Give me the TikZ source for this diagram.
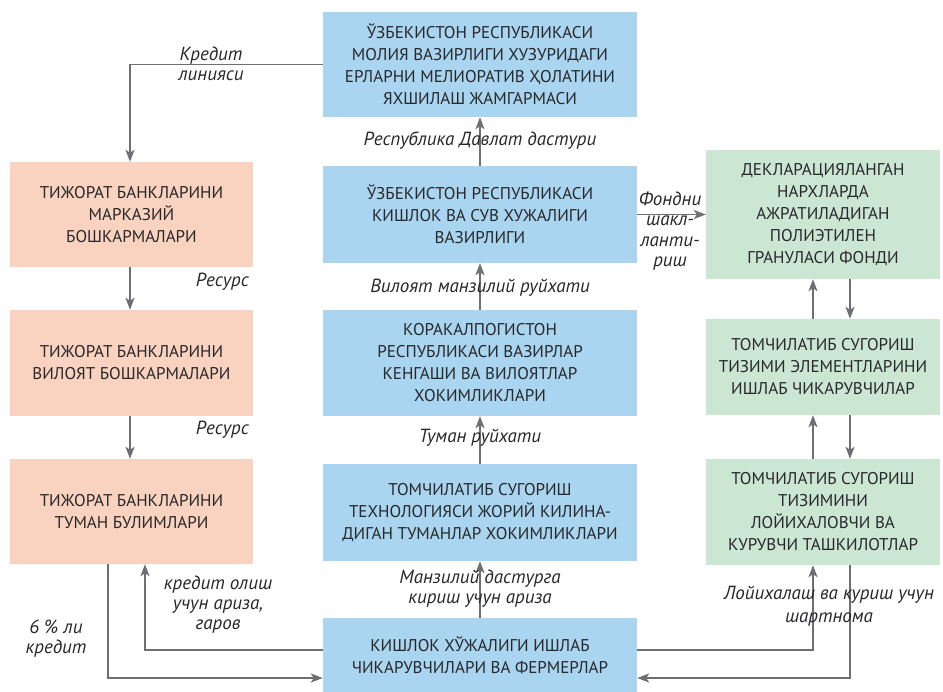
\documentclass[tikz,border=0pt]{standalone}
\usepackage{fontspec}
\setmainfont{PT Sans}
\usetikzlibrary{arrows.meta}
\definecolor{bluebox}{RGB}{169,213,240}
\definecolor{salmonbox}{RGB}{250,211,192}
\definecolor{greenbox}{RGB}{204,230,212}
\definecolor{linegrey}{RGB}{110,111,115}
\definecolor{txt}{RGB}{40,40,42}
\begin{document}
\begin{tikzpicture}[x=1pt,y=-1pt,
  box/.style={rectangle, inner sep=0pt, align=center, text=txt,
    font=\fontsize{17}{22}\selectfont},
  bluebox/.style={box, fill=bluebox, minimum width=314pt},
  bankbox/.style={box, fill=salmonbox, minimum width=243pt},
  supplybox/.style={box, fill=greenbox, minimum width=234pt},
  lbl/.style={inner sep=0pt, align=center, text=txt,
    font=\itshape\fontsize{19}{20}\selectfont},
  arr/.style={draw=linegrey, line width=1.5pt,
    -{Stealth[length=12pt,width=9pt,inset=3pt]}}]
\useasboundingbox (0,0) rectangle (943,692);

% central column
\node[bluebox, minimum height=105pt] (T) at (480,64.5)
  {ЎЗБЕКИСТОН РЕСПУБЛИКАСИ\\МОЛИЯ ВАЗИРЛИГИ ХУЗУРИДАГИ\\ЕРЛАРНИ МЕЛИОРАТИВ ҲОЛАТИНИ\\ЯХШИЛАШ ЖАМГАРМАСИ};
\node[bluebox, minimum height=97pt] (M2) at (480,214.5)
  {ЎЗБЕКИСТОН РЕСПУБЛИКАСИ\\КИШЛОК ВА СУВ ХУЖАЛИГИ\\ВАЗИРЛИГИ};
\node[bluebox, minimum height=106pt] (M3) at (480,363)
  {КОРАКАЛПОГИСТОН\\РЕСПУБЛИКАСИ ВАЗИРЛАР\\КЕНГАШИ ВА ВИЛОЯТЛАР\\ХОКИМЛИКЛАРИ};
\node[bluebox, minimum height=97pt] (M4) at (480,512.5)
  {ТОМЧИЛАТИБ СУГОРИШ\\ТЕХНОЛОГИЯСИ ЖОРИЙ КИЛИНА-\\ДИГАН ТУМАНЛАР ХОКИМЛИКЛАРИ};
\node[bluebox, minimum height=74pt] (B) at (480,655)
  {КИШЛОК ХЎЖАЛИГИ ИШЛАБ\\ЧИКАРУВЧИЛАРИ ВА ФЕРМЕРЛАР};

% bank column
\node[bankbox, minimum height=105pt] (L1) at (131.5,214.5)
  {ТИЖОРАТ БАНКЛАРИНИ\\МАРКАЗИЙ\\БОШКАРМАЛАРИ};
\node[bankbox, minimum height=106pt] (L2) at (131.5,363)
  {ТИЖОРАТ БАНКЛАРИНИ\\ВИЛОЯТ БОШКАРМАЛАРИ};
\node[bankbox, minimum height=105pt] (L3) at (131.5,511.5)
  {ТИЖОРАТ БАНКЛАРИНИ\\ТУМАН БУЛИМЛАРИ};

% supplier column
\node[supplybox, minimum height=129pt] (R1) at (823,214.5)
  {ДЕКЛАРАЦИЯЛАНГАН\\НАРХЛАРДА\\АЖРАТИЛАДИГАН\\ПОЛИЭТИЛЕН\\ГРАНУЛАСИ ФОНДИ};
\node[supplybox, minimum height=96pt] (R2) at (823,367)
  {ТОМЧИЛАТИБ СУГОРИШ\\ТИЗИМИ ЭЛЕМЕНТЛАРИНИ\\ИШЛАБ ЧИКАРУВЧИЛАР};
\node[supplybox, minimum height=106pt] (R3) at (823,512)
  {ТОМЧИЛАТИБ СУГОРИШ\\ТИЗИМИНИ\\ЛОЙИХАЛОВЧИ ВА\\КУРУВЧИ ТАШКИЛОТЛАР};

% helper coordinates for the bottom routing
\coordinate (yOut) at (0,650);
\coordinate (yIn) at (0,678);
\coordinate (xL1) at (108,0);
\coordinate (xL2) at (145,0);
\coordinate (xR1) at (813,0);
\coordinate (xR2) at (850,0);
\coordinate (xBank) at (130,0);

% connectors
\draw[arr] (T.west) -| (L1.north -| xBank);
\draw[arr] (L1.south -| xBank) -- (L2.north -| xBank);
\draw[arr] (L2.south -| xBank) -- (L3.north -| xBank);

\draw[arr] (M2.north) -- (T.south);
\draw[arr] (M3.north) -- (M2.south);
\draw[arr] (M4.north) -- (M3.south);
\draw[arr] (B.north) -- (M4.south);

\draw[arr] (M2.east) -- (R1.west);
\draw[arr] (R2.north -| xR1) -- (R1.south -| xR1);
\draw[arr] (R1.south -| xR2) -- (R2.north -| xR2);
\draw[arr] (R3.north -| xR1) -- (R2.south -| xR1);
\draw[arr] (R2.south -| xR2) -- (R3.north -| xR2);

\draw[arr] (B.east |- yOut) -| (R3.south -| xR1);
\draw[arr] (R3.south -| xR2) |- (B.east |- yIn);
\draw[arr] (L3.south -| xL1) |- (B.west |- yIn);
\draw[arr] (B.west |- yOut) -| (L3.south -| xL2);

% connector labels
\node[lbl] (lCredit) at (211,64) {Кредит\\линияси};
\node[lbl] (lProg) at (480,141) {Республика Давлат дастури};
\node[lbl] (lReg) at (480,288) {Вилоят манзилий руйхати};
\node[lbl] (lDist) at (480,438) {Туман руйхати};
\node[lbl] (lApp) at (480,589) {Манзилий дастурга\\кириш учун ариза};
\node[lbl, font=\itshape\fontsize{19}{20.5}\selectfont] (lFund) at (670,231) {Фондни\\шакл-\\ланти-\\риш};
\node[lbl, anchor=east] (lRes1) at (249,282) {Ресурс};
\node[lbl, anchor=east] (lRes2) at (249,430) {Ресурс};
\node[lbl] (lLoanApp) at (218,605) {кредит олиш\\учун ариза,\\гаров};
\node[lbl] (lLoan) at (56,639) {6 \% ли\\кредит};
\node[lbl, font=\itshape\fontsize{19}{22.5}\selectfont] (lContract) at (829,606) {Лойихалаш ва куриш учун\\шартнома};
\end{tikzpicture}
\end{document}
